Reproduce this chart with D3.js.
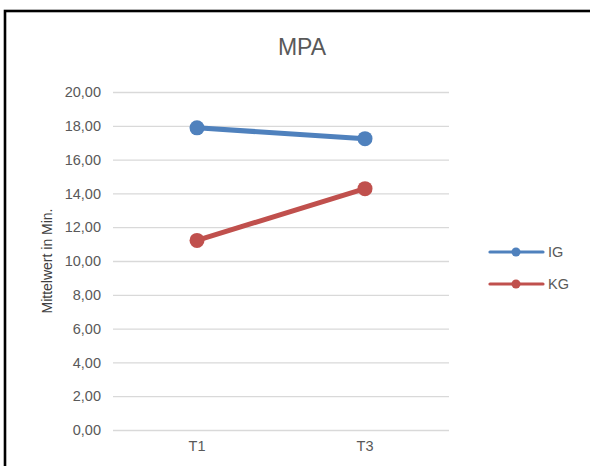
<!DOCTYPE html>
<html>
<head>
<meta charset="utf-8">
<script src="https://cdn.jsdelivr.net/npm/d3@7"></script>
<style>
  html, body { margin: 0; padding: 0; background: #fff; }
  svg { display: block; font-family: "Liberation Sans", Arial, sans-serif; }
</style>
</head>
<body>
<svg id="chart" width="590" height="466"></svg>
<script>
// Mean values (minutes) per measurement time
const categories = ["T1", "T3"];
const seriesNames = ["IG", "KG"];
const igValues = [17.88, 17.24];
const kgValues = [11.22, 14.28];
const yTicks = [0, 2, 4, 6, 8, 10, 12, 14, 16, 18, 20];
const colors = ["#4F81BD", "#C0504D"];

const series = [
  { name: seriesNames[0], values: igValues, color: colors[0] },
  { name: seriesNames[1], values: kgValues, color: colors[1] }
];

const svg = d3.select("#chart");
const fmt = v => d3.format(".2f")(v).replace(".", ",");
const FONT = "Liberation Sans, Arial, sans-serif";

// Chart frame
svg.append("rect")
  .attr("x", 5).attr("y", 11)
  .attr("width", 620).attr("height", 500)
  .attr("fill", "#fff")
  .attr("stroke", "#000")
  .attr("stroke-width", 2.6);

const plot = { left: 113, right: 449, top: 92, bottom: 430 };

const x = d3.scaleBand().domain(categories).range([plot.left, plot.right]);
const y = d3.scaleLinear().domain([0, 20]).range([plot.bottom, plot.top]);

// Title
svg.append("text")
  .attr("x", 302).attr("y", 55)
  .attr("text-anchor", "middle")
  .attr("font-size", 23)
  .attr("fill", "#595959")
  .text("MPA");

// Horizontal gridlines and y tick labels
const yAxis = d3.axisLeft(y).tickValues(yTicks).tickFormat(fmt)
  .tickSize(-(plot.right - plot.left)).tickPadding(12);
const gy = svg.append("g").attr("transform", `translate(${plot.left},0)`).call(yAxis);
gy.select(".domain").remove();
gy.selectAll(".tick line").attr("stroke", "#D9D9D9").attr("stroke-width", 1.3);
gy.selectAll(".tick text").attr("fill", "#595959").attr("font-size", 14.5)
  .attr("font-family", FONT);

// Category labels
const xAxis = d3.axisBottom(x).tickSize(0).tickPadding(11);
const gx = svg.append("g").attr("transform", `translate(0,${plot.bottom})`).call(xAxis);
gx.select(".domain").remove();
gx.selectAll(".tick text").attr("fill", "#595959").attr("font-size", 14.5)
  .attr("font-family", FONT);

// Y axis title
svg.append("text")
  .attr("transform", `translate(52,${(plot.top + plot.bottom) / 2}) rotate(-90)`)
  .attr("text-anchor", "middle")
  .attr("font-size", 14)
  .attr("fill", "#404040")
  .text("Mittelwert in Min.");

// Lines with markers
const line = d3.line()
  .x((d, i) => x(categories[i]) + x.bandwidth() / 2)
  .y(d => y(d));

series.forEach(s => {
  svg.append("path")
    .datum(s.values)
    .attr("d", line)
    .attr("fill", "none")
    .attr("stroke", s.color)
    .attr("stroke-width", 5)
    .attr("stroke-linecap", "round");
  svg.selectAll(null)
    .data(s.values)
    .enter().append("circle")
    .attr("cx", (d, i) => x(categories[i]) + x.bandwidth() / 2)
    .attr("cy", d => y(d))
    .attr("r", 7.5)
    .attr("fill", s.color);
});

// Legend
const legend = svg.append("g");
series.forEach((s, i) => {
  const ly = 252 + i * 32;
  legend.append("line")
    .attr("x1", 490).attr("x2", 543)
    .attr("y1", ly).attr("y2", ly)
    .attr("stroke", s.color).attr("stroke-width", 3.2)
    .attr("stroke-linecap", "round");
  legend.append("circle")
    .attr("cx", 516).attr("cy", ly).attr("r", 4.5)
    .attr("fill", s.color);
  legend.append("text")
    .attr("x", 548).attr("y", ly + 5)
    .attr("font-size", 14.5).attr("fill", "#595959")
    .text(s.name);
});
</script>
</body>
</html>
